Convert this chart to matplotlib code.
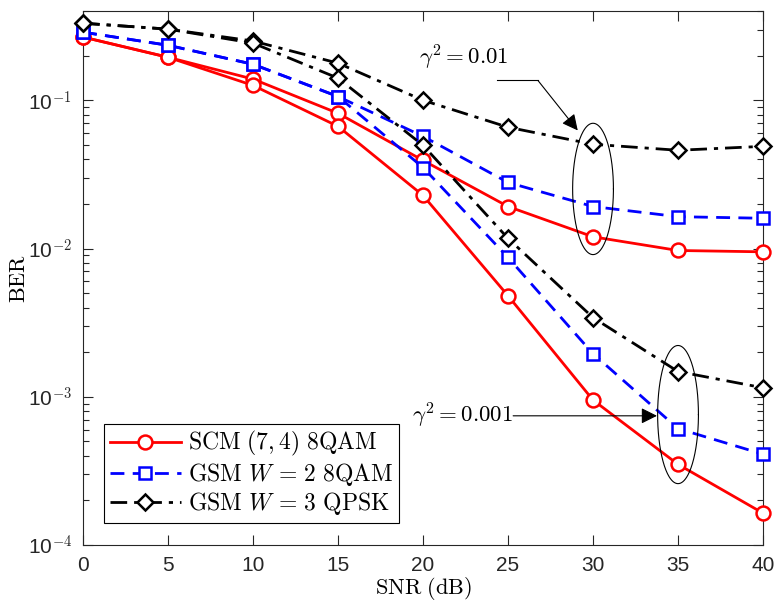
import numpy as np
import matplotlib.pyplot as plt
from matplotlib.ticker import FixedLocator, NullFormatter

plt.rcParams['mathtext.fontset'] = 'cm'
plt.rcParams['font.family'] = ['Liberation Sans', 'DejaVu Sans']

# SNR (dB)
snr = [0, 5, 10, 15, 20, 25, 30, 35, 40]

# gamma^2 = 0.01
scm_01 = [0.267, 0.195, 0.139, 0.0817, 0.0393, 0.0192, 0.0120, 0.0097, 0.0095]
gsm2_01 = [0.288, 0.235, 0.175, 0.106, 0.0571, 0.0279, 0.0192, 0.0164, 0.0160]
gsm3_01 = [0.331, 0.302, 0.251, 0.178, 0.100, 0.0658, 0.0505, 0.0460, 0.0489]

# gamma^2 = 0.001
scm_001 = [0.267, 0.195, 0.126, 0.0667, 0.0228, 0.0048, 9.5e-4, 3.5e-4, 1.64e-4]
gsm2_001 = [0.288, 0.235, 0.175, 0.106, 0.0352, 0.0087, 1.95e-3, 6.1e-4, 4.1e-4]
gsm3_001 = [0.331, 0.302, 0.243, 0.141, 0.0497, 0.0117, 3.42e-3, 1.48e-3, 1.15e-3]

labels = [r'$\mathrm{SCM}\ (7,4)\ \mathrm{8QAM}$',
          r'$\mathrm{GSM}\ W\,=\,2\ \mathrm{8QAM}$',
          r'$\mathrm{GSM}\ W\,=\,3\ \mathrm{QPSK}$']

fig = plt.figure(figsize=(7.79, 6.13), dpi=100)
ax = fig.add_axes([0.1066, 0.1109, 0.8729, 0.8711])

styles = [dict(color='red', linestyle='-', marker='o', markersize=10),
          dict(color='blue', linestyle=(0, (5, 3)), marker='s', markersize=9),
          dict(color='black', linestyle=(0, (6, 2.5, 1.5, 2.5)), marker='D', markersize=8.5)]
common = dict(linewidth=2.0, markeredgewidth=1.8,
              markerfacecolor='white', clip_on=False, zorder=3)

for i, (a, b) in enumerate([(scm_01, scm_001), (gsm2_01, gsm2_001), (gsm3_01, gsm3_001)]):
    ax.plot(snr, a, label=labels[i], **styles[i], **common)
    ax.plot(snr, b, **styles[i], **common)

ax.set_yscale('log')
ax.set_xlim(0, 40)
ax.set_ylim(1e-4, 0.4)
ax.set_xticks(range(0, 41, 5))
ax.set_yticks([1e-4, 1e-3, 1e-2, 1e-1])
ax.set_yticklabels([r'10$^{\mathsf{-4}}$', r'10$^{\mathsf{-3}}$',
                    r'10$^{\mathsf{-2}}$', r'10$^{\mathsf{-1}}$'])
ax.yaxis.set_minor_locator(FixedLocator(
    [m * 10.0 ** e for e in range(-4, 0) for m in range(2, 10)]))
ax.yaxis.set_minor_formatter(NullFormatter())

edge = '0.15'
for s in ax.spines.values():
    s.set_color(edge)
    s.set_linewidth(0.8)
ax.tick_params(which='both', direction='in', top=True, right=True,
               color=edge, labelsize=15, labelcolor='0.15', width=0.8)
ax.tick_params(which='major', length=7, pad=8)
ax.tick_params(which='minor', length=4)

ax.set_xlabel(r'$\mathrm{SNR\ (dB)}$', fontsize=16, labelpad=0)
ax.set_ylabel(r'$\mathrm{BER}$', fontsize=16, labelpad=-2)

# ellipses grouping the curves
t = np.linspace(0, 2 * np.pi, 200)
for xc, yc, hy in [(30, -1.598, 0.443), (35, -3.12, 0.466)]:
    ax.plot(xc + 1.2 * np.cos(t), 10 ** (yc + hy * np.sin(t)),
            color='black', linewidth=0.8, zorder=4)

# annotations
ax.text(22.4, 0.195, r'$\gamma^2=0.01$', fontsize=16.5, ha='center', va='center')
ax.plot([24.35, 26.76], [0.136, 0.136], color='black', linewidth=0.8)
ax.annotate('', xy=(29.1, 0.0626), xytext=(26.76, 0.136),
            arrowprops=dict(arrowstyle='-|>', color='black', lw=0.8,
                            mutation_scale=24, shrinkA=0, shrinkB=0))

ax.text(25.3, 7.44e-4, r'$\gamma^2=0.001$', fontsize=16.5, ha='right', va='center')
ax.annotate('', xy=(33.76, 7.44e-4), xytext=(25.3, 7.44e-4),
            arrowprops=dict(arrowstyle='-|>', color='black', lw=0.8,
                            mutation_scale=24, shrinkA=0, shrinkB=0))

leg = ax.legend(loc='lower left', bbox_to_anchor=(0.031, 0.041), fontsize=17,
                fancybox=False, edgecolor='black', framealpha=1,
                handlelength=3.0, handletextpad=0.3, borderpad=0.25,
                labelspacing=0.1, borderaxespad=0)
leg.get_frame().set_linewidth(0.8)

fig.savefig('out.png', dpi=100)
